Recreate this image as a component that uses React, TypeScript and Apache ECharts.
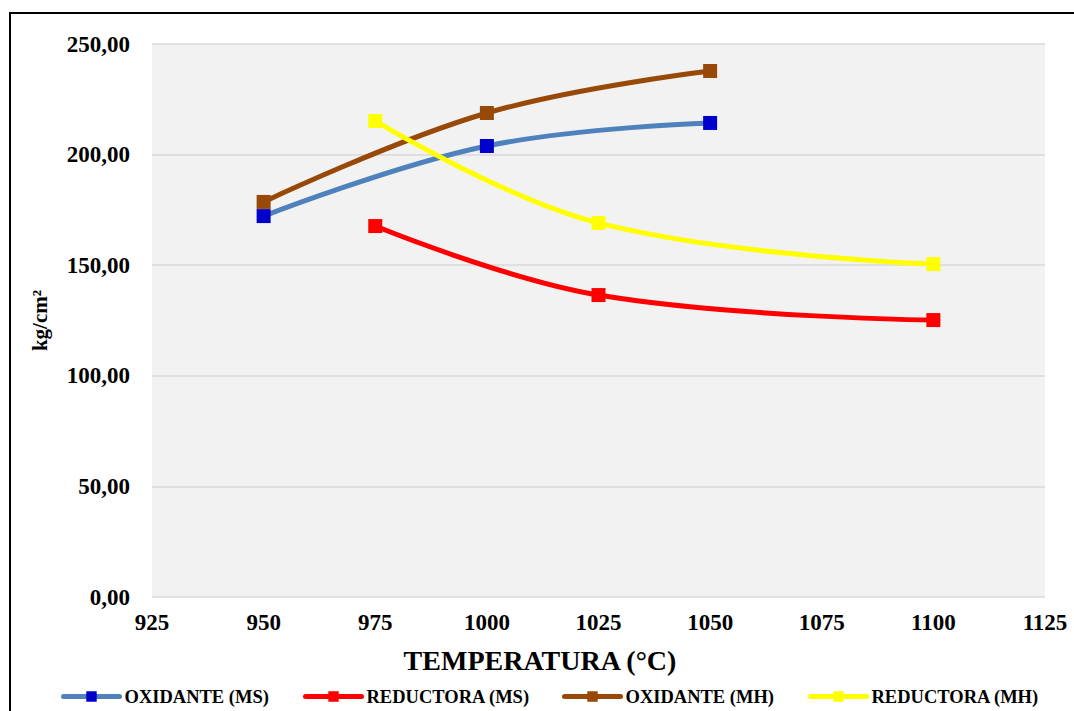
import React, { useEffect, useRef } from "react";
import * as echarts from "echarts";

// Temperature (°C) vs. strength (kg/cm²)
const oxidanteMSx = [950, 1000, 1050];
const oxidanteMSy = [172.2, 203.9, 214.3];
const reductoraMSx = [975, 1025, 1100];
const reductoraMSy = [167.7, 136.5, 125.2];
const oxidanteMHx = [950, 1000, 1050];
const oxidanteMHy = [178.6, 218.8, 237.8];
const reductoraMHx = [975, 1025, 1100];
const reductoraMHy = [215.2, 169.1, 150.5];

const seriesNames = ["OXIDANTE (MS)", "REDUCTORA (MS)", "OXIDANTE (MH)", "REDUCTORA (MH)"];
const xTitle = "TEMPERATURA (°C)";
const yTitle = "kg/cm²";

const FONT = "Liberation Serif";

// left edge of each legend entry
const legendLefts = [61, 303, 562, 808];

const pairs = (xs: number[], ys: number[]) => xs.map((x, i) => [x, ys[i]]);

export default function App() {
  const ref = useRef<HTMLDivElement>(null);

  useEffect(() => {
    if (!ref.current) return;
    const chart = echarts.init(ref.current, undefined, { renderer: "svg" });

    const makeSeries = (name: string, data: number[][], line: string, marker: string) => ({
      name,
      type: "line",
      data,
      smooth: 0.4,
      symbol: "rect",
      symbolSize: 14,
      lineStyle: { color: line, width: 5, cap: "round" },
      itemStyle: { color: marker, borderWidth: 0 },
      emphasis: { disabled: true },
    });

    chart.setOption({
      animation: false,
      backgroundColor: "#ffffff",
      textStyle: { fontFamily: FONT },
      grid: {
        left: 152,
        right: 29,
        top: 44,
        bottom: 114,
        show: true,
        backgroundColor: "#f2f2f2",
        borderWidth: 0,
      },
      legend: seriesNames.map((name, i) => ({
        left: legendLefts[i],
        top: 687,
        padding: 0,
        itemWidth: 56,
        itemHeight: 13,
        lineStyle: { width: 5, cap: "round" },
        textStyle: { fontFamily: FONT, fontWeight: "bold", fontSize: 18.5, color: "#000" },
        data: [name],
      })),
      xAxis: {
        type: "value",
        min: 925,
        max: 1125,
        interval: 25,
        axisLine: { show: false },
        axisTick: { show: false },
        splitLine: { show: false },
        axisLabel: {
          fontFamily: FONT,
          fontWeight: "bold",
          fontSize: 23,
          color: "#000",
          margin: 14,
          formatter: (v: number) => String(v),
        },
      },
      yAxis: {
        type: "value",
        min: 0,
        max: 250,
        interval: 50,
        name: yTitle,
        nameLocation: "middle",
        nameGap: 102,
        nameTextStyle: { fontFamily: FONT, fontWeight: "bold", fontSize: 21, color: "#000" },
        axisLine: { show: false },
        axisTick: { show: false },
        splitLine: { show: true, lineStyle: { color: "#d9d9d9", width: 1.5 } },
        axisLabel: {
          fontFamily: FONT,
          fontWeight: "bold",
          fontSize: 23,
          color: "#000",
          margin: 22,
          formatter: (v: number) => v.toFixed(2).replace(".", ","),
        },
      },
      graphic: [
        {
          type: "rect",
          shape: { x: 10, y: 13, width: 1100, height: 760 },
          style: { fill: "none", stroke: "#000", lineWidth: 2 },
          silent: true,
        },
        {
          type: "text",
          x: 540,
          y: 660,
          style: {
            text: xTitle,
            fontFamily: FONT,
            fontWeight: "bold",
            fontSize: 28,
            fill: "#000",
            align: "center",
            verticalAlign: "middle",
          },
          silent: true,
        },
      ],
      series: [
        makeSeries(seriesNames[0], pairs(oxidanteMSx, oxidanteMSy), "#4f81bd", "#0000cc"),
        makeSeries(seriesNames[1], pairs(reductoraMSx, reductoraMSy), "#ff0000", "#ff0000"),
        makeSeries(seriesNames[2], pairs(oxidanteMHx, oxidanteMHy), "#984807", "#984807"),
        makeSeries(seriesNames[3], pairs(reductoraMHx, reductoraMHy), "#ffff00", "#ffff00"),
      ],
    });

    return () => chart.dispose();
  }, []);

  return (
    <div
      ref={ref}
      style={{ position: "fixed", left: 0, top: 0, width: 1074, height: 711 }}
    />
  );
}
